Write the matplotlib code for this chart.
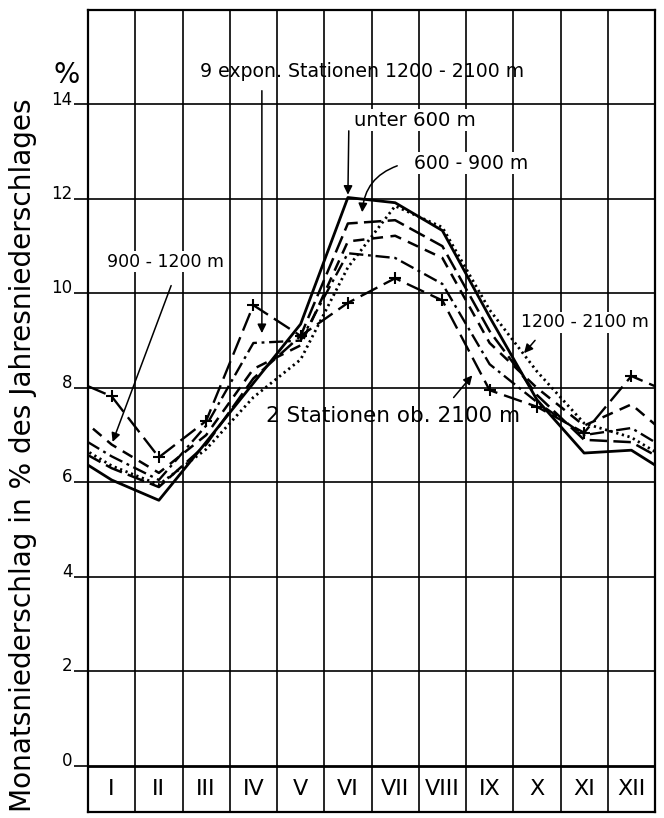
import numpy as np
import matplotlib.pyplot as plt
import matplotlib.transforms as mtransforms

# Monate und Werte (Monatsniederschlag in % des Jahresniederschlages)
monate = ["I", "II", "III", "IV", "V", "VI", "VII", "VIII", "IX", "X", "XI", "XII"]

unter_600 = [6.05, 5.62, 6.85, 8.1, 9.35, 12.03, 11.92, 11.33, 9.5, 7.75, 6.62, 6.68]
h_600_900 = [6.3, 5.9, 6.8, 8.2, 9.1, 11.48, 11.55, 11.0, 9.2, 7.85, 6.9, 6.85]
h_900_1200 = [6.8, 6.2, 7.0, 8.4, 8.9, 11.1, 11.22, 10.75, 8.95, 8.0, 7.2, 7.65]
h_1200_2100 = [6.35, 5.95, 6.7, 7.8, 8.6, 10.55, 11.85, 11.4, 9.65, 8.35, 7.25, 6.95]
expon_9 = [6.55, 6.05, 7.2, 8.95, 9.0, 10.85, 10.75, 10.2, 8.5, 7.7, 7.0, 7.15]
ob_2100 = [7.82, 6.53, 7.3, 9.75, 9.1, 9.8, 10.32, 9.85, 7.95, 7.6, 7.05, 8.25]

y_ticks = [0, 2, 4, 6, 8, 10, 12, 14]

plt.rcParams['font.family'] = ['DejaVu Sans']

fig = plt.figure(figsize=(6.64, 8.18), dpi=100)
ax = fig.add_axes([88 / 664, 1 - 812 / 818, (655 - 88) / 664, (812 - 10) / 818])
ax.set_xlim(0.5, 12.5)
ax.set_ylim(-0.98, 16.0)

# Gitter
for b in np.arange(0.5, 13, 1):
    ax.axvline(b, color="k", lw=1.2, zorder=1)
for t in y_ticks:
    ax.axhline(t, color="k", lw=2.0 if t == 0 else 1.2, zorder=1)

for s in ax.spines.values():
    s.set_linewidth(1.6)

ax.set_xticks([])
ax.set_yticks(y_ticks)
ax.set_yticklabels([str(t) for t in y_ticks], fontsize=12)
ax.tick_params(axis="y", length=10, width=1.2, pad=1)
off = mtransforms.ScaledTranslation(0, 5 / 72, fig.dpi_scale_trans)
for lab in ax.get_yticklabels():
    lab.set_transform(lab.get_transform() + off)

# Monatskästchen
for i, m in enumerate(monate):
    ax.text(i + 1, -0.5, m, ha="center", va="center", fontsize=16)


def kurve(werte, **kw):
    # Dezember links und Januar rechts fortsetzen (wird an der Achse abgeschnitten)
    x = np.arange(0, 14)
    y = [werte[-1]] + list(werte) + [werte[0]]
    return ax.plot(x, y, color="k", zorder=3, **kw)


kurve(unter_600, lw=2.0)
kurve(h_600_900, lw=1.8, dashes=(7, 2.5))
kurve(h_900_1200, lw=1.8, dashes=(4.5, 3))
kurve(h_1200_2100, lw=2.0, dashes=(0.8, 1.3))
kurve(expon_9, lw=1.7, dashes=(6, 2, 1.2, 2))
kurve(ob_2100, lw=1.7, dashes=(8, 3), marker="+", markersize=8, markeredgewidth=1.5)

pfeil = dict(arrowstyle="-|>", color="k", lw=1.1, mutation_scale=13)
weiss = dict(fc="white", ec="none", pad=1)

ax.text(6.3, 14.69, "9 expon. Stationen 1200 - 2100 m", ha="center", va="center", fontsize=13.6)
ax.annotate("", xy=(4.18, 9.1), xytext=(4.18, 14.35), arrowprops=pfeil)

ax.text(7.42, 13.67, "unter 600 m", ha="center", va="center", fontsize=14.2, bbox=weiss)
ax.annotate("", xy=(6, unter_600[5]), xytext=(6.02, 13.5), arrowprops=pfeil)

ax.text(8.6, 12.76, "600 - 900 m", ha="center", va="center", fontsize=13.5, bbox=weiss)
ax.annotate("", xy=(6.3, 11.66), xytext=(7.1, 12.72),
            arrowprops=dict(pfeil, connectionstyle="arc3,rad=0.35"))

ax.text(2.13, 10.67, "900 - 1200 m", ha="center", va="center", fontsize=12.5, bbox=weiss)
ax.annotate("", xy=(1, h_900_1200[0]), xytext=(2.28, 10.22), arrowprops=pfeil)

ax.text(11.02, 9.39, "1200 - 2100 m", ha="center", va="center", fontsize=12.5, bbox=weiss)
ax.annotate("", xy=(9.69, 8.69), xytext=(10.0, 9.05), arrowprops=pfeil)

ax.text(6.95, 7.4, "2 Stationen ob. 2100 m", ha="center", va="center", fontsize=15.5, zorder=4)
ax.annotate("", xy=(8.67, 8.31), xytext=(8.2, 7.75), arrowprops=pfeil)

fig.text(67 / 664, 1 - 75 / 818, "%", ha="center", va="center", fontsize=20)
fig.text(23 / 664, 1 - 455 / 818, "Monatsniederschlag in % des Jahresniederschlages",
         rotation=90, ha="center", va="center", fontsize=20.2)

fig.savefig("out.png", dpi=100)
